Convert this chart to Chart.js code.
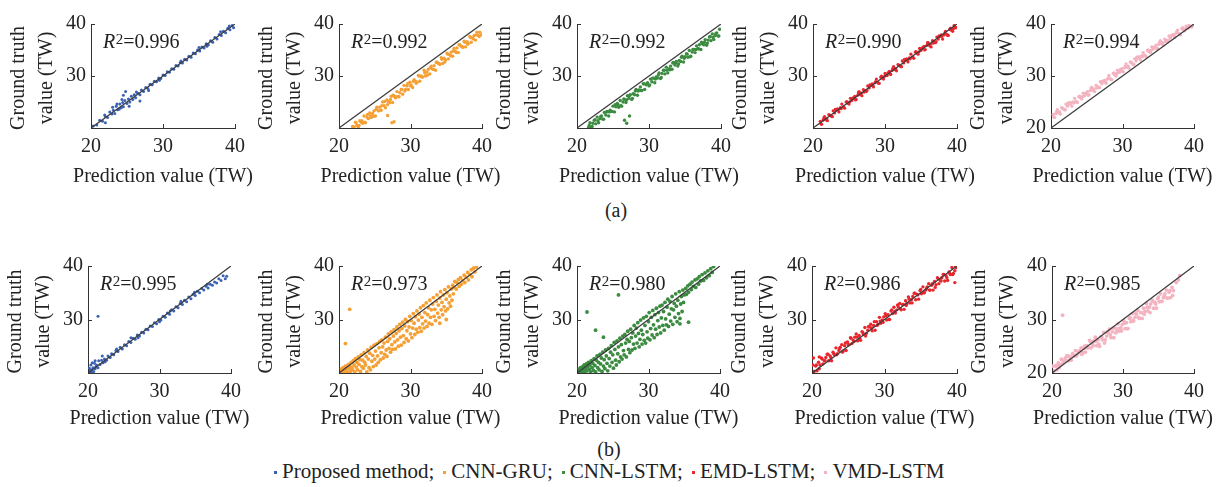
<!DOCTYPE html>
<html>
<head>
<meta charset="utf-8">
<script src="https://cdn.jsdelivr.net/npm/chart.js@4.4.1/dist/chart.umd.min.js"></script>
<style>
  html, body { margin: 0; padding: 0; background: #fff; }
  #wrap { position: relative; width: 1226px; height: 487px; overflow: hidden; font-family: 'Liberation Serif', 'Times New Roman', serif; color: #222; }
  canvas { position: absolute; }
  .cap { position: absolute; font-size: 20px; transform: translate(-50%, -50%); white-space: nowrap; }
  #legend { position: absolute; left: 274px; top: 459px; font-size: 21px; white-space: nowrap; display: flex; align-items: center; }
  #legend .item { display: flex; align-items: center; margin-right: 9px; }
  #legend .dot { width: 3px; height: 3px; margin-right: 5px; margin-top: 2px; }
</style>
</head>
<body>
<div id="wrap">
  <div class="cap" style="left:616px; top:210px;">(a)</div>
  <div class="cap" style="left:609px; top:449px;">(b)</div>
  <div id="legend"></div>
</div>
<script>
// ---------- data ----------
const methods = ['Proposed method', 'CNN-GRU', 'CNN-LSTM', 'EMD-LSTM', 'VMD-LSTM'];
const colors  = ['#3a62b4', '#f5a035', '#3b8b40', '#e8262e', '#f4b3c1'];
const r2A = [0.996, 0.992, 0.992, 0.990, 0.994];
const r2B = [0.995, 0.973, 0.980, 0.986, 0.985];
const axisTicks = [20, 30, 40];
const xTitle = 'Prediction value (TW)';
const yTitle = ['Ground truth', 'value (TW)'];

// each entry: [prediction, ground truth]
const proposedA = [[20.3,20.4],[20.8,20.6],[21.2,21.5],[21.6,21.3],[22.0,22.2],[22.3,22.0],[22.6,23.1],[22.9,22.7],[23.1,23.4],[23.3,22.8],[23.5,24.2],[23.7,23.5],[23.9,23.6],[24.0,24.6],[24.2,23.9],[24.4,24.9],[24.5,24.1],[24.7,25.3],[24.8,27.0],[24.5,26.3],[25.0,24.7],[25.2,25.6],[25.4,25.0],[25.6,26.1],[25.8,25.5],[26.0,26.4],[26.2,25.8],[26.5,26.7],[26.8,26.4],[27.0,27.3],[27.3,27.0],[27.6,27.8],[27.9,27.6],[28.2,28.4],[28.5,28.3],[28.8,29.0],[29.1,28.9],[29.4,29.6],[29.7,29.5],[30.0,30.2],[30.3,30.1],[30.6,30.8],[30.9,30.7],[31.2,31.4],[31.5,31.3],[31.8,32.0],[32.1,31.9],[32.4,32.6],[32.7,32.5],[33.0,33.2],[33.3,33.1],[33.6,33.8],[33.9,33.6],[34.2,34.4],[34.5,34.3],[34.8,35.0],[35.1,34.8],[35.4,35.6],[35.7,35.4],[36.0,36.2],[36.3,36.0],[36.6,36.8],[36.9,36.5],[37.2,37.4],[37.5,37.1],[37.8,38.0],[38.1,37.8],[38.4,38.6],[38.7,38.3],[39.0,39.2],[39.3,38.9],[39.6,39.7],[39.8,39.3],[26.8,25.2],[22.0,21.0],[23.0,24.0],[28.0,27.2],[35.0,35.5],[38.0,38.5],[24.3,25.5],[25.3,24.2],[21.9,22.5],[23.6,24.6],[26.3,26.9],[29.5,29.2],[32.5,32.9],[36.1,35.7],[39.2,39.6]];

const cnnGruA = [[21.9,20.3],[22.1,20.2],[22.3,21.1],[22.5,20.5],[22.7,20.1],[22.9,21.4],[23.1,21.1],[23.3,20.9],[23.5,22.3],[23.7,21.0],[23.9,22.1],[24.1,21.8],[24.3,22.9],[24.5,22.0],[24.7,22.8],[24.9,23.3],[25.1,22.3],[25.3,24.0],[25.5,23.3],[25.7,24.0],[25.9,23.4],[26.1,25.0],[26.3,24.3],[26.5,23.9],[26.7,25.4],[26.9,25.1],[27.1,24.9],[27.3,26.1],[27.5,24.9],[27.7,26.1],[27.9,25.8],[28.1,27.0],[28.3,26.0],[28.5,26.8],[28.7,27.4],[28.9,26.5],[29.1,28.2],[29.3,27.4],[29.5,28.1],[29.7,27.4],[29.9,28.8],[30.1,28.3],[30.3,27.8],[30.5,29.3],[30.7,29.0],[30.9,28.8],[31.1,30.1],[31.3,29.0],[31.5,30.0],[31.7,29.8],[31.9,31.1],[32.1,30.0],[32.3,30.8],[32.5,31.3],[32.7,30.4],[32.9,31.9],[33.1,31.3],[33.3,32.0],[33.5,31.1],[33.7,32.7],[33.9,32.4],[34.1,32.2],[34.3,33.5],[34.5,32.4],[34.7,33.4],[34.9,33.1],[35.1,34.4],[35.3,33.3],[35.5,34.1],[35.7,34.6],[35.9,33.8],[36.1,35.3],[36.3,34.7],[36.5,35.4],[36.7,34.5],[36.9,36.0],[37.1,35.7],[37.3,35.5],[37.5,36.7],[37.7,35.6],[37.9,36.6],[38.1,36.3],[38.3,37.6],[38.5,36.5],[38.7,37.3],[38.9,37.8],[39.1,36.9],[39.3,38.4],[39.5,37.8],[39.7,38.4],[39.9,37.9],[22.0,20.2],[22.4,21.0],[22.8,20.5],[23.2,21.4],[23.6,21.1],[24.0,22.6],[24.4,22.3],[24.8,22.2],[25.2,23.6],[25.6,23.3],[26.0,24.3],[26.4,25.1],[26.8,24.5],[27.2,25.5],[27.6,26.3],[28.0,26.0],[28.4,26.0],[28.8,27.4],[29.2,27.1],[29.6,28.5],[30.0,28.1],[30.4,29.0],[30.8,28.6],[31.2,30.0],[31.6,29.8],[32.0,30.6],[32.4,30.2],[32.8,31.6],[33.2,31.3],[33.6,32.6],[34.0,32.4],[34.4,33.2],[34.8,32.7],[35.2,34.2],[35.6,33.9],[36.0,34.8],[36.4,34.5],[36.8,36.0],[37.2,35.7],[37.6,36.5],[38.0,36.1],[38.4,37.4],[38.8,37.1],[39.2,37.9],[39.6,37.6],[27.4,21.0],[26.8,22.4],[27.7,21.2]];

const cnnLstmA = [[21.6,20.1],[21.8,21.0],[22.0,20.2],[22.2,20.9],[22.4,21.5],[22.6,20.8],[22.8,22.1],[23.0,21.0],[23.2,21.8],[23.4,22.3],[23.6,21.7],[23.8,23.0],[24.0,22.5],[24.2,23.2],[24.4,22.3],[24.6,23.4],[24.8,23.2],[25.0,24.2],[25.2,23.1],[25.4,24.1],[25.6,24.7],[25.8,24.0],[26.0,25.3],[26.2,24.2],[26.4,25.0],[26.6,25.5],[26.8,24.9],[27.0,26.2],[27.2,25.7],[27.4,26.4],[27.6,25.5],[27.8,26.6],[28.0,26.4],[28.2,27.4],[28.4,26.3],[28.6,27.3],[28.8,27.9],[29.0,27.2],[29.2,28.5],[29.4,27.4],[29.6,28.3],[29.8,28.7],[30.0,28.1],[30.2,29.4],[30.4,28.9],[30.6,29.6],[30.8,28.7],[31.0,29.8],[31.2,29.6],[31.4,30.6],[31.6,29.5],[31.8,30.5],[32.0,31.1],[32.2,30.4],[32.4,31.7],[32.6,30.6],[32.8,31.4],[33.0,31.9],[33.2,31.3],[33.4,32.6],[33.6,32.1],[33.8,32.8],[34.0,31.9],[34.2,33.0],[34.4,32.8],[34.6,33.8],[34.8,32.7],[35.0,33.7],[35.2,34.3],[35.4,33.6],[35.6,34.9],[35.8,33.8],[36.0,34.6],[36.2,35.1],[36.4,34.5],[36.6,35.8],[36.8,35.3],[37.0,36.0],[37.2,35.1],[37.4,36.2],[37.6,36.0],[37.8,37.0],[38.0,35.9],[38.2,36.9],[38.4,37.5],[38.6,36.8],[38.8,38.1],[39.0,37.0],[39.2,37.8],[39.4,38.3],[39.6,37.7],[39.8,39.0],[21.7,20.5],[22.1,20.3],[22.5,21.6],[22.9,21.4],[23.3,22.2],[23.7,21.7],[24.1,23.1],[24.5,23.1],[24.9,23.2],[25.3,24.5],[25.7,24.5],[26.1,24.3],[26.5,25.6],[26.9,25.4],[27.3,26.2],[27.7,25.7],[28.1,27.1],[28.5,27.1],[28.9,27.2],[29.3,28.5],[29.7,28.5],[30.1,28.3],[30.5,29.6],[30.9,29.4],[31.3,30.2],[31.7,29.7],[32.1,31.1],[32.5,31.1],[32.9,31.2],[33.3,32.5],[33.7,32.5],[34.1,32.3],[34.5,33.6],[34.9,33.4],[35.3,34.2],[35.7,33.7],[36.1,35.1],[36.5,35.1],[36.9,35.2],[37.3,36.5],[37.7,36.5],[38.1,36.3],[38.5,37.6],[38.9,37.4],[39.3,38.2],[39.7,37.7],[26.9,20.9],[27.3,22.3],[26.6,21.5]];

const emdLstmA = [[21.0,21.3],[21.2,20.7],[21.4,21.5],[21.6,22.2],[21.8,21.6],[22.0,21.4],[22.2,22.6],[22.4,22.4],[22.6,22.2],[22.8,23.3],[23.0,22.9],[23.2,23.4],[23.4,23.7],[23.6,23.1],[23.8,23.9],[24.0,24.6],[24.2,24.0],[24.4,23.8],[24.6,25.0],[24.8,24.8],[25.0,24.6],[25.2,25.7],[25.4,25.3],[25.6,25.8],[25.8,26.1],[26.0,25.5],[26.2,26.3],[26.4,27.0],[26.6,26.4],[26.8,26.2],[27.0,27.4],[27.2,27.2],[27.4,27.0],[27.6,28.1],[27.8,27.7],[28.0,28.2],[28.2,28.5],[28.4,27.9],[28.6,28.7],[28.8,29.4],[29.0,28.8],[29.2,28.6],[29.4,29.8],[29.6,29.6],[29.8,29.4],[30.0,30.5],[30.2,30.1],[30.4,30.6],[30.6,30.9],[30.8,30.3],[31.0,31.1],[31.2,31.8],[31.4,31.2],[31.6,31.0],[31.8,32.2],[32.0,32.0],[32.2,31.8],[32.4,32.9],[32.6,32.5],[32.8,33.0],[33.0,33.3],[33.2,32.7],[33.4,33.5],[33.6,34.2],[33.8,33.6],[34.0,33.4],[34.2,34.6],[34.4,34.4],[34.6,34.2],[34.8,35.3],[35.0,34.9],[35.2,35.4],[35.4,35.7],[35.6,35.1],[35.8,35.9],[36.0,36.4],[36.2,35.8],[36.4,35.6],[36.6,36.8],[36.8,36.6],[37.0,36.4],[37.2,37.5],[37.4,37.1],[37.6,37.6],[37.8,37.9],[38.0,37.1],[38.2,37.9],[38.4,38.6],[38.6,38.0],[38.8,37.8],[39.0,39.0],[39.2,38.8],[39.4,38.6],[39.6,39.7],[39.8,39.3],[21.1,20.8],[21.5,21.9],[21.9,21.8],[22.3,22.5],[22.7,22.2],[23.1,23.6],[23.5,23.5],[23.9,23.7],[24.3,24.0],[24.7,25.1],[25.1,25.0],[25.5,25.7],[25.9,25.4],[26.3,26.8],[26.7,26.7],[27.1,26.9],[27.5,27.2],[27.9,28.3],[28.3,28.2],[28.7,28.9],[29.1,28.6],[29.5,30.0],[29.9,29.9],[30.3,30.1],[30.7,30.4],[31.1,31.5],[31.5,31.4],[31.9,32.1],[32.3,31.8],[32.7,33.2],[33.1,33.1],[33.5,33.3],[33.9,33.6],[34.3,34.7],[34.7,34.6],[35.1,35.3],[35.5,35.0],[35.9,36.4],[36.3,36.1],[36.7,36.3],[37.1,36.6],[37.5,37.7],[37.9,37.6],[38.3,38.2],[38.7,37.8],[39.1,39.2],[39.5,39.1],[39.9,39.3]];

const vmdLstmA = [[20.3,22.6],[20.5,22.0],[20.7,22.8],[20.9,23.5],[21.1,22.9],[21.3,22.7],[21.5,23.9],[21.7,23.7],[21.9,23.5],[22.1,24.6],[22.3,24.2],[22.5,24.6],[22.7,24.9],[22.9,24.2],[23.1,25.0],[23.3,25.7],[23.5,25.1],[23.7,24.9],[23.9,26.0],[24.1,25.8],[24.3,25.6],[24.5,26.7],[24.7,26.2],[24.9,26.7],[25.1,27.0],[25.3,26.4],[25.5,27.2],[25.7,27.8],[25.9,27.2],[26.1,27.0],[26.3,28.2],[26.5,28.0],[26.7,27.8],[26.9,28.9],[27.1,28.5],[27.3,28.9],[27.5,29.2],[27.7,28.6],[27.9,29.4],[28.1,30.1],[28.3,29.5],[28.5,29.3],[28.7,30.5],[28.9,30.2],[29.1,30.0],[29.3,31.1],[29.5,30.7],[29.7,31.2],[29.9,31.4],[30.1,30.8],[30.3,31.6],[30.5,32.3],[30.7,31.7],[30.9,31.5],[31.1,32.7],[31.3,32.5],[31.5,32.2],[31.7,33.3],[31.9,32.9],[32.1,33.4],[32.3,33.7],[32.5,33.1],[32.7,33.9],[32.9,34.5],[33.1,34.0],[33.3,33.7],[33.5,34.9],[33.7,34.7],[33.9,34.5],[34.1,35.6],[34.3,35.2],[34.5,35.6],[34.7,35.9],[34.9,35.3],[35.1,36.1],[35.3,36.8],[35.5,36.2],[35.7,35.9],[35.9,37.1],[36.1,36.9],[36.3,36.7],[36.5,37.7],[36.7,37.3],[36.9,37.8],[37.1,38.0],[37.3,37.4],[37.5,38.2],[37.7,38.8],[37.9,38.2],[38.1,37.9],[38.3,39.1],[38.5,38.9],[38.7,38.7],[38.9,39.6],[39.1,39.3],[39.3,39.7],[39.5,39.5],[39.7,39.4],[39.9,39.8],[20.4,22.1],[20.8,23.2],[21.2,23.1],[21.6,23.8],[22.0,23.5],[22.4,24.8],[22.8,24.7],[23.2,24.8],[23.6,25.0],[24.0,26.1],[24.4,26.0],[24.8,26.6],[25.2,26.3],[25.6,27.7],[26.0,27.5],[26.4,27.7],[26.8,27.8],[27.2,29.0],[27.6,28.9],[28.0,29.6],[28.4,29.3],[28.8,30.6],[29.2,30.5],[29.6,30.7],[30.0,30.9],[30.4,31.9],[30.8,31.9],[31.2,32.6],[31.6,32.2],[32.0,33.6],[32.4,33.5],[32.8,33.7],[33.2,33.9],[33.6,35.0],[34.0,34.9],[34.4,35.5],[34.8,35.2],[35.2,36.5],[35.6,36.4],[36.0,36.6],[36.4,36.9],[36.8,37.7],[37.2,37.8],[37.6,38.5],[38.0,38.0],[38.4,39.3],[38.8,39.1],[39.2,39.2]];

const proposedB = [[20.1,20.3],[20.2,20.9],[20.3,20.1],[20.4,21.5],[20.5,20.6],[20.7,21.0],[20.8,20.3],[20.9,21.8],[21.0,20.8],[21.2,21.5],[21.4,21.0],[21.5,22.3],[21.4,30.6],[21.7,21.6],[21.9,22.4],[22.1,21.9],[22.3,22.6],[22.6,22.4],[22.8,23.2],[23.1,22.9],[23.3,23.6],[23.6,23.4],[23.9,24.2],[24.2,24.0],[24.5,24.8],[24.8,24.5],[25.1,25.3],[25.4,25.1],[25.7,25.9],[26.0,25.7],[26.3,26.5],[26.6,26.3],[26.9,27.1],[27.2,26.9],[27.5,27.6],[27.8,27.5],[28.1,28.2],[28.4,28.1],[28.7,28.8],[29.0,28.7],[29.3,29.4],[29.6,29.2],[29.9,30.0],[30.2,29.9],[30.5,30.6],[30.8,30.4],[31.1,31.2],[31.4,31.0],[31.7,31.8],[32.0,31.6],[32.3,32.4],[32.6,32.2],[32.9,33.0],[33.2,32.8],[33.5,33.6],[33.8,33.3],[34.1,34.2],[34.4,33.9],[34.7,34.7],[35.0,34.5],[35.3,35.3],[35.6,35.0],[35.9,35.8],[36.2,35.5],[36.5,36.2],[36.8,35.9],[37.1,36.6],[37.4,36.4],[37.7,37.0],[38.0,36.8],[38.3,37.6],[38.6,37.3],[38.9,38.2],[39.2,37.6],[39.4,38.1],[22.0,23.2],[21.0,22.3],[26.0,26.6],[20.6,21.9],[33.0,33.4],[30.0,29.6],[20.3,20.6],[20.6,20.2],[21.1,21.2],[22.4,22.1],[24.0,24.5],[27.0,26.6],[31.5,31.6],[34.9,35.1],[36.7,36.6]];

const cnnGruB = [[20.1,20.2],[20.2,20.5],[20.3,20.1],[20.4,20.8],[20.5,20.4],[20.6,21.0],[20.7,20.2],[20.8,20.7],[20.9,21.3],[21.0,20.5],[21.1,21.0],[21.2,20.1],[21.3,21.6],[21.4,20.8],[21.5,21.3],[21.6,20.3],[21.7,22.0],[21.8,21.0],[21.9,20.6],[22.0,22.3],[22.1,21.5],[22.2,20.2],[22.3,22.7],[22.4,21.1],[22.5,22.0],[22.6,20.6],[22.7,23.0],[22.8,21.6],[22.9,22.5],[23.0,20.3],[23.1,23.4],[23.2,21.2],[23.3,22.4],[23.4,20.9],[23.5,23.8],[23.6,22.0],[23.7,21.5],[23.8,23.1],[23.9,20.2],[24.0,24.3],[24.1,22.6],[24.2,21.0],[24.3,23.7],[24.4,20.6],[24.5,24.8],[24.6,22.2],[24.7,23.3],[24.8,21.2],[24.9,25.2],[25.0,22.6],[25.1,24.1],[25.2,21.5],[25.3,25.5],[25.4,23.2],[25.5,22.0],[25.6,24.7],[25.7,25.9],[25.8,22.5],[25.9,23.8],[26.0,26.2],[26.1,24.9],[26.2,22.8],[26.3,25.6],[26.4,23.5],[26.5,26.7],[26.6,24.3],[26.7,23.1],[26.8,25.9],[26.9,27.3],[27.0,24.6],[27.1,26.4],[27.2,23.9],[27.3,27.7],[27.4,25.3],[27.5,24.4],[27.6,26.9],[27.7,28.1],[27.8,25.8],[27.9,24.5],[28.0,27.4],[28.1,28.6],[28.2,26.2],[28.3,25.0],[28.4,27.9],[28.5,29.1],[28.6,26.7],[28.7,25.2],[28.8,28.3],[28.9,29.5],[29.0,27.0],[29.1,25.7],[29.2,28.8],[29.3,30.0],[29.4,26.4],[29.5,27.9],[29.6,29.6],[29.7,26.0],[29.8,28.6],[29.9,30.6],[30.0,27.3],[30.1,29.8],[30.2,26.6],[30.3,28.4],[30.4,31.1],[30.5,29.3],[30.6,27.2],[30.7,30.5],[30.8,28.2],[30.9,31.6],[31.0,27.6],[31.1,29.9],[31.2,31.0],[31.3,28.5],[31.4,32.2],[31.5,27.8],[31.6,30.4],[31.7,29.2],[31.8,32.6],[31.9,28.4],[32.0,31.3],[32.1,29.7],[32.2,33.1],[32.3,28.7],[32.4,30.9],[32.5,32.2],[32.6,29.3],[32.7,33.6],[32.8,30.4],[32.9,31.8],[33.0,29.1],[33.1,32.9],[33.2,34.1],[33.3,30.6],[33.4,31.9],[33.5,29.8],[33.6,33.4],[33.7,34.6],[33.8,31.2],[33.9,32.7],[34.0,30.4],[34.1,34.0],[34.2,35.2],[34.3,31.8],[34.4,33.2],[34.5,30.9],[34.6,34.6],[34.7,32.4],[34.8,35.6],[34.9,31.6],[35.0,33.8],[35.1,35.0],[35.2,32.0],[35.3,36.1],[35.4,33.1],[35.5,34.4],[35.6,32.5],[35.7,35.7],[35.8,33.6],[35.9,36.4],[36.0,34.8],[36.1,36.0],[36.2,37.1],[36.4,35.7],[36.5,36.9],[36.7,37.5],[36.8,36.2],[37.0,37.8],[37.1,36.6],[37.3,37.3],[37.5,38.3],[37.6,36.9],[37.8,37.9],[38.0,38.8],[38.1,37.4],[38.3,38.4],[38.5,39.3],[38.6,38.0],[38.8,39.6],[39.0,38.9],[39.2,39.8],[21.5,31.9],[20.9,25.5],[34.1,29.3],[35.0,30.0]];

const cnnLstmB = [[20.1,20.3],[20.2,20.1],[20.3,20.7],[20.4,20.3],[20.5,21.0],[20.6,20.5],[20.7,20.1],[20.8,21.2],[20.9,20.7],[21.0,21.5],[21.1,20.2],[21.2,20.9],[21.3,21.7],[21.4,20.4],[21.5,21.2],[21.6,22.0],[21.7,20.7],[21.8,21.5],[21.9,20.2],[22.0,22.3],[22.1,21.0],[22.2,21.8],[22.3,20.5],[22.4,22.7],[22.5,21.4],[22.6,20.2],[22.7,22.4],[22.8,23.2],[22.9,21.0],[23.0,22.0],[23.1,20.6],[23.2,23.5],[23.3,21.7],[23.4,22.8],[23.5,20.3],[23.6,23.9],[23.7,21.3],[23.8,22.5],[23.9,20.8],[24.0,24.3],[24.1,23.2],[24.2,21.8],[24.3,20.4],[24.4,24.6],[24.5,22.7],[24.6,21.3],[24.7,23.9],[24.8,25.1],[24.9,22.0],[25.0,23.4],[25.1,20.9],[25.2,25.7],[25.3,24.4],[25.4,22.4],[25.5,21.5],[25.6,26.0],[25.7,23.6],[25.8,24.9],[25.9,22.1],[26.0,26.5],[26.1,23.0],[26.2,25.3],[26.3,22.6],[26.4,26.9],[26.5,24.2],[26.6,23.4],[26.7,27.2],[26.8,25.6],[26.9,23.0],[27.0,26.3],[27.1,27.8],[27.2,24.4],[27.3,25.9],[27.4,23.8],[27.5,28.2],[27.6,26.6],[27.7,24.3],[27.8,27.5],[27.9,25.4],[28.0,28.9],[28.1,24.6],[28.2,26.9],[28.3,28.4],[28.4,25.6],[28.5,29.4],[28.6,27.4],[28.7,24.9],[28.8,26.3],[28.9,29.9],[29.0,28.0],[29.1,25.4],[29.2,27.2],[29.3,30.3],[29.4,26.1],[29.5,28.9],[29.6,25.6],[29.7,30.6],[29.8,27.7],[29.9,26.5],[30.0,29.6],[30.1,31.3],[30.2,26.2],[30.3,28.3],[30.4,30.4],[30.5,27.1],[30.6,31.7],[30.7,29.0],[30.8,26.6],[30.9,30.9],[31.0,28.2],[31.1,32.1],[31.2,27.2],[31.3,29.8],[31.4,31.3],[31.5,28.6],[31.6,32.5],[31.7,27.5],[31.8,30.3],[31.9,32.7],[32.0,28.9],[32.1,31.5],[32.2,28.0],[32.3,33.2],[32.4,30.1],[32.5,29.0],[32.6,32.3],[32.7,33.8],[32.8,28.7],[32.9,31.0],[33.0,33.4],[33.1,29.7],[33.2,32.0],[33.3,34.3],[33.4,29.1],[33.5,31.8],[33.6,33.0],[33.7,30.4],[33.8,34.8],[33.9,32.5],[34.0,29.6],[34.1,33.6],[34.2,31.1],[34.3,35.2],[34.4,30.2],[34.5,32.9],[34.6,34.3],[34.7,31.5],[34.8,35.5],[34.9,33.2],[35.0,34.6],[35.2,35.8],[35.3,34.7],[35.5,36.3],[35.6,35.1],[35.8,36.6],[36.0,35.6],[36.1,37.0],[36.3,36.2],[36.5,37.4],[36.6,36.0],[36.8,37.6],[37.0,36.6],[37.1,38.0],[37.3,37.2],[37.5,38.4],[37.7,37.3],[37.9,38.7],[38.1,37.8],[38.3,39.1],[38.5,38.2],[38.7,39.5],[38.9,38.8],[39.1,39.9],[21.4,31.4],[22.6,28.0],[25.8,34.6],[23.7,26.7],[34.4,29.2],[35.6,29.5]];

const emdLstmB = [[20.1,21.5],[20.3,20.3],[20.5,21.3],[20.7,20.4],[20.9,22.0],[21.1,21.5],[21.3,22.8],[21.5,21.7],[21.7,22.3],[21.9,22.9],[22.1,23.5],[22.3,22.3],[22.5,23.2],[22.7,22.3],[22.9,23.9],[23.1,23.4],[23.3,24.7],[23.5,23.6],[23.7,24.2],[23.9,24.8],[24.1,25.3],[24.3,24.1],[24.5,25.1],[24.7,24.2],[24.9,25.8],[25.1,25.3],[25.3,26.6],[25.5,25.5],[25.7,26.1],[25.9,26.7],[26.1,27.3],[26.3,26.0],[26.5,27.0],[26.7,26.1],[26.9,27.7],[27.1,27.2],[27.3,28.5],[27.5,27.4],[27.7,28.0],[27.9,28.6],[28.1,29.1],[28.3,27.9],[28.5,28.9],[28.7,28.0],[28.9,29.6],[29.1,29.1],[29.3,30.4],[29.5,29.3],[29.7,29.9],[29.9,30.5],[30.1,31.1],[30.3,29.9],[30.5,30.9],[30.7,30.0],[30.9,31.6],[31.1,31.1],[31.3,32.3],[31.5,31.2],[31.7,31.8],[31.9,32.4],[32.1,33.0],[32.3,31.8],[32.5,32.8],[32.7,31.9],[32.9,33.5],[33.1,33.0],[33.3,34.2],[33.5,33.1],[33.7,33.7],[33.9,34.3],[34.1,34.9],[34.3,33.7],[34.5,34.7],[34.7,33.8],[34.9,35.4],[35.1,34.8],[35.3,36.1],[35.5,35.0],[35.7,35.5],[35.9,36.1],[36.1,36.7],[36.3,35.5],[36.5,36.4],[36.7,35.5],[36.9,37.1],[37.1,36.5],[37.3,37.8],[37.5,36.7],[37.7,37.3],[37.9,37.8],[38.1,38.4],[38.3,37.2],[38.5,38.2],[38.7,37.3],[38.9,38.9],[39.1,38.4],[39.3,39.7],[39.5,38.6],[39.7,39.1],[39.9,39.7],[20.2,20.3],[20.6,21.5],[21.0,20.8],[21.4,22.6],[21.8,22.3],[22.2,23.5],[22.6,22.9],[23.0,23.6],[23.4,23.4],[23.8,24.6],[24.2,23.9],[24.6,25.6],[25.0,25.3],[25.4,26.5],[25.8,25.9],[26.2,26.7],[26.6,26.4],[27.0,27.6],[27.4,26.9],[27.8,28.7],[28.2,28.4],[28.6,29.6],[29.0,28.9],[29.4,29.7],[29.8,29.5],[30.2,30.7],[30.6,30.0],[31.0,31.8],[31.4,31.5],[31.8,32.7],[32.2,32.0],[32.6,32.8],[33.0,32.6],[33.4,33.8],[33.8,33.1],[34.2,34.9],[34.6,34.6],[35.0,35.6],[35.4,35.0],[35.8,35.8],[36.2,35.5],[36.6,36.7],[37.0,36.0],[37.4,37.6],[37.8,37.2],[38.2,38.4],[38.6,37.8],[39.0,38.6],[39.4,38.4],[39.8,40.0],[39.7,36.9],[20.2,22.8],[21.0,23.0]];

const vmdLstmB = [[20.1,21.3],[20.3,20.4],[20.5,21.3],[20.7,20.6],[20.9,21.9],[21.1,21.5],[21.3,22.6],[21.5,21.8],[21.7,22.3],[21.9,22.8],[22.1,23.2],[22.3,22.3],[22.5,23.1],[22.7,22.4],[22.9,23.6],[23.1,23.2],[23.3,24.2],[23.5,23.4],[23.7,23.8],[23.9,24.2],[24.1,24.7],[24.3,23.8],[24.5,24.6],[24.7,23.9],[24.9,25.1],[25.1,24.7],[25.3,26.1],[25.5,24.7],[25.7,25.4],[25.9,26.0],[26.1,26.7],[26.3,25.1],[26.5,26.2],[26.7,25.0],[26.9,26.8],[27.1,26.2],[27.3,27.6],[27.5,26.2],[27.7,26.9],[27.9,27.5],[28.1,28.2],[28.3,26.6],[28.5,27.7],[28.7,26.6],[28.9,28.4],[29.1,27.8],[29.3,29.2],[29.5,27.8],[29.7,28.5],[29.9,29.1],[30.1,29.8],[30.3,28.3],[30.5,29.4],[30.7,28.3],[30.9,30.2],[31.1,29.6],[31.3,31.1],[31.5,29.7],[31.7,30.4],[31.9,31.0],[32.1,31.7],[32.3,30.2],[32.5,31.3],[32.7,30.2],[32.9,32.1],[33.1,31.5],[33.3,33.0],[33.5,31.6],[33.7,32.3],[33.9,32.9],[34.1,33.6],[34.3,32.1],[34.5,33.2],[34.7,32.1],[34.9,33.9],[35.1,33.3],[35.3,34.8],[35.5,33.4],[35.7,34.1],[35.9,34.8],[36.1,35.5],[36.3,34.0],[36.5,35.1],[36.7,34.1],[36.9,36.0],[37.1,35.4],[20.2,20.4],[20.6,21.4],[21.0,21.0],[21.4,22.5],[21.8,22.3],[22.2,23.2],[22.6,22.8],[23.0,23.4],[23.4,23.2],[23.8,24.1],[24.2,23.5],[24.6,25.0],[25.0,24.7],[25.4,25.9],[25.8,25.1],[26.2,25.9],[26.6,25.4],[27.0,26.7],[27.4,25.6],[27.8,27.7],[28.2,27.1],[28.6,28.4],[29.0,27.5],[29.4,28.3],[29.8,27.9],[30.2,29.3],[30.6,28.3],[31.0,30.4],[31.4,29.9],[31.8,31.2],[32.2,30.4],[32.6,31.3],[33.0,31.0],[33.4,32.3],[33.8,31.3],[34.2,33.4],[34.6,32.9],[35.0,34.2],[35.4,33.4],[35.8,34.3],[36.2,34.0],[36.6,35.4],[37.0,34.5],[21.5,30.8],[38.0,38.2],[37.5,36.9],[37.8,37.4]];

const seriesA = [proposedA, cnnGruA, cnnLstmA, emdLstmA, vmdLstmA];
const seriesB = [proposedB, cnnGruB, cnnLstmB, emdLstmB, vmdLstmB];
const dotSizeA = [1.5, 1.7, 1.7, 1.6, 1.7];
const dotSizeB = [1.5, 1.9, 1.9, 1.7, 1.9];

// ---------- layout (plot areas, px) ----------
const rows = [
  { top: 21, bottom: 128, lefts: [91, 339, 577, 813, 1051], rights: [235, 482, 721, 957, 1194], titleGap: 49 },
  { top: 263, bottom: 373, lefts: [88, 339, 577, 812, 1052], rights: [231, 482, 720, 957, 1194], titleGap: 46 }
];
const SERIF = "'Liberation Serif', 'Times New Roman', serif";
const AXIS = '#333';
const TEXT = '#222';
const PAD_TOP = 14, YW = 86, PAD_R = 22, XH = 64;

const toPoints = s => s.map(([x, y]) => ({ x, y }));

const panelDecor = {
  id: 'panelDecor',
  afterDraw(chart, args, o) {
    const { ctx, chartArea: a, scales: { x, y } } = chart;
    ctx.save();
    ctx.strokeStyle = AXIS; ctx.lineWidth = 1;
    axisTicks.forEach(v => {
      const px = Math.round(x.getPixelForValue(v)) + 0.5;
      ctx.beginPath(); ctx.moveTo(px, a.bottom); ctx.lineTo(px, a.bottom - 4); ctx.stroke();
      const py = Math.round(y.getPixelForValue(v)) + 0.5;
      ctx.beginPath(); ctx.moveTo(a.left, py); ctx.lineTo(a.left + 4, py); ctx.stroke();
    });
    ctx.fillStyle = TEXT;
    ctx.textBaseline = 'middle';
    ctx.textAlign = 'center';
    ctx.font = `20px ${SERIF}`;
    ctx.fillText(xTitle, (a.left + a.right) / 2, a.bottom + o.titleGap);
    const cy = (a.top + a.bottom) / 2 + 2;
    yTitle.forEach((t, i) => {
      ctx.save();
      ctx.translate(a.left - 72 + i * 28, cy);
      ctx.rotate(-Math.PI / 2);
      ctx.fillText(t, 0, 0);
      ctx.restore();
    });
    // R^2 annotation
    ctx.textAlign = 'left';
    let tx = a.left + 12;
    const ty = a.top + 19;
    ctx.font = `italic 20px ${SERIF}`;
    ctx.fillText('R', tx, ty);
    tx += ctx.measureText('R').width + 0.5;
    ctx.font = `15px ${SERIF}`;
    ctx.fillText('2', tx, ty - 3);
    tx += ctx.measureText('2').width;
    ctx.font = `20px ${SERIF}`;
    ctx.fillText('=' + o.r2.toFixed(3), tx, ty);
    ctx.restore();
  }
};

const wrap = document.getElementById('wrap');

function makePanel(row, i, series, r2, show20, dot) {
  const left = row.lefts[i], right = row.rights[i];
  const cw = YW + (right - left) + PAD_R;
  const ch = PAD_TOP + (row.bottom - row.top) + XH;
  const cv = document.createElement('canvas');
  cv.width = cw; cv.height = ch;
  cv.style.left = (left - YW) + 'px';
  cv.style.top = (row.top - PAD_TOP) + 'px';
  cv.style.width = cw + 'px'; cv.style.height = ch + 'px';
  wrap.appendChild(cv);
  const tickFont = { family: SERIF, size: 20 };
  new Chart(cv, {
    type: 'scatter',
    data: {
      datasets: [
        { data: [{ x: 20, y: 20 }, { x: 40, y: 40 }], showLine: true, borderColor: '#3c3c3c', borderWidth: 1.3, pointRadius: 0, fill: false },
        { data: toPoints(series), backgroundColor: colors[i], borderWidth: 0, pointRadius: dot, pointHoverRadius: dot }
      ]
    },
    options: {
      responsive: false,
      animation: false,
      events: [],
      layout: { padding: { top: PAD_TOP, right: PAD_R, left: 0, bottom: 0 } },
      plugins: { legend: { display: false }, tooltip: { enabled: false }, panelDecor: { r2: r2, titleGap: row.titleGap } },
      scales: {
        x: {
          type: 'linear', min: 20, max: 40,
          afterFit: s => { s.height = XH; },
          grid: { display: false, drawTicks: false },
          border: { display: true, color: AXIS, width: 1 },
          ticks: { stepSize: 10, font: tickFont, color: TEXT, padding: 7, maxRotation: 0 }
        },
        y: {
          type: 'linear', min: 20, max: 40,
          afterFit: s => { s.width = YW; },
          grid: { display: false, drawTicks: false },
          border: { display: true, color: AXIS, width: 1 },
          ticks: { stepSize: 10, font: tickFont, color: TEXT, padding: 5,
                   callback: v => (v === 20 && !show20) ? '' : String(v) }
        }
      }
    },
    plugins: [panelDecor]
  });
}

for (let i = 0; i < 5; i++) {
  makePanel(rows[0], i, seriesA[i], r2A[i], i === 4, dotSizeA[i]);
  makePanel(rows[1], i, seriesB[i], r2B[i], i === 4, dotSizeB[i]);
}

// legend
const lg = document.getElementById('legend');
methods.forEach((m, i) => {
  const it = document.createElement('span');
  it.className = 'item';
  const d = document.createElement('span');
  d.className = 'dot'; d.style.background = colors[i];
  const t = document.createElement('span');
  t.textContent = m + (i < methods.length - 1 ? ';' : '');
  it.appendChild(d); it.appendChild(t);
  lg.appendChild(it);
});
</script>
</body>
</html>
